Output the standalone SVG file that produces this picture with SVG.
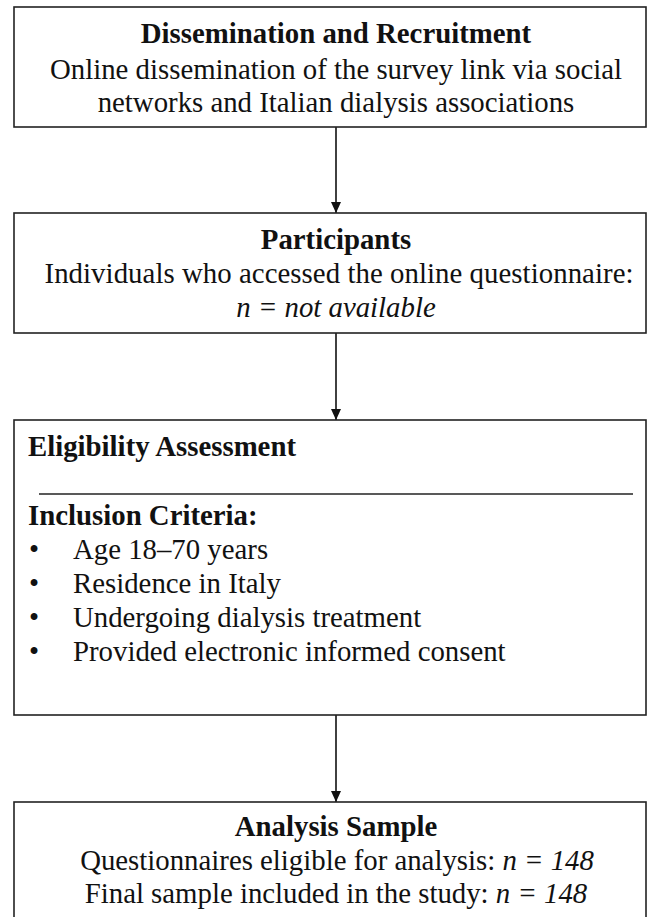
<svg xmlns="http://www.w3.org/2000/svg" width="647" height="917" viewBox="0 0 647 917">
<style>
.box{fill:#fff;stroke:#222;stroke-width:1.6}
.t{font-family:"Liberation Serif","Times New Roman",serif;font-size:28.8px;fill:#111}
.b{font-weight:bold}
.c{text-anchor:middle}
.i{font-style:italic}
.conn{stroke:#111;stroke-width:1.6;fill:none}
</style>
<defs>
<marker id="ah" viewBox="0 0 11 10" refX="11" refY="5" markerWidth="11" markerHeight="10" markerUnits="userSpaceOnUse" orient="auto">
<path d="M0,0 L11,5 L0,10 Z" fill="#111"/>
</marker>
</defs>
<rect width="647" height="917" fill="#fff"/>
<g id="connectors">
<line class="conn" x1="336" y1="127" x2="336" y2="213" marker-end="url(#ah)"/>
<line class="conn" x1="336" y1="333" x2="336" y2="420" marker-end="url(#ah)"/>
<line class="conn" x1="336" y1="715" x2="336" y2="802" marker-end="url(#ah)"/>
</g>
<g id="node-dissemination">
<rect class="box" x="14" y="7" width="632" height="120"/>
<text class="t b c" x="336" y="43">Dissemination and Recruitment</text>
<text class="t c" x="336" y="79" textLength="572" lengthAdjust="spacing">Online dissemination of the survey link via social</text>
<text class="t c" x="336" y="112">networks and Italian dialysis associations</text>
</g>
<g id="node-participants">
<rect class="box" x="14" y="213" width="632" height="120"/>
<text class="t b c" x="336" y="249">Participants</text>
<text class="t c" x="339" y="283" textLength="589" lengthAdjust="spacing">Individuals who accessed the online questionnaire:</text>
<text class="t c i" x="336" y="317">n = not available</text>
</g>
<g id="node-eligibility">
<rect class="box" x="14" y="420" width="632" height="295"/>
<text class="t b" x="28" y="456">Eligibility Assessment</text>
<line x1="39" y1="494" x2="633" y2="494" stroke="#222" stroke-width="1.6"/>
<text class="t b" x="28" y="525">Inclusion Criteria:</text>
<text class="t" x="29" y="559">•</text>
<text class="t" x="73" y="559">Age 18–70 years</text>
<text class="t" x="29" y="593">•</text>
<text class="t" x="73" y="593">Residence in Italy</text>
<text class="t" x="29" y="627">•</text>
<text class="t" x="73" y="627">Undergoing dialysis treatment</text>
<text class="t" x="29" y="661">•</text>
<text class="t" x="73" y="661">Provided electronic informed consent</text>
</g>
<g id="node-analysis">
<rect class="box" x="14" y="802" width="632" height="130"/>
<text class="t b c" x="336" y="836">Analysis Sample</text>
<text class="t c" x="337" y="870">Questionnaires eligible for analysis: <tspan class="i">n = 148</tspan></text>
<text class="t c" x="336" y="903">Final sample included in the study: <tspan class="i">n = 148</tspan></text>
</g>
</svg>
